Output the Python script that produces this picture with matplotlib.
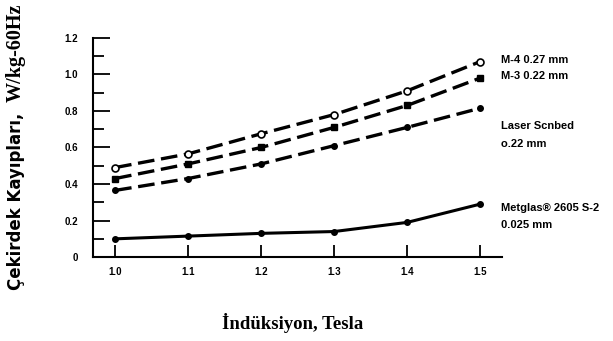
import numpy as np
import matplotlib.pyplot as plt

# induction (T) and core losses (W/kg at 60 Hz)
induction = [1.0, 1.1, 1.2, 1.3, 1.4, 1.5]
m4_loss = [0.49, 0.565, 0.675, 0.78, 0.91, 1.07]
m3_loss = [0.43, 0.51, 0.60, 0.71, 0.83, 0.98]
laser_loss = [0.365, 0.43, 0.51, 0.61, 0.71, 0.815]
metglas_loss = [0.10, 0.115, 0.13, 0.14, 0.19, 0.29]

x_ticks = [1.0, 1.1, 1.2, 1.3, 1.4, 1.5]
x_ticklabels = ['1.0', '1.1', '1.2', '1.3', '1.4', '1.5']
y_ticks = [0, 0.2, 0.4, 0.6, 0.8, 1.0, 1.2]
y_ticklabels = ['0', '0.2', '0.4', '0.6', '0.8', '1.0', '1.2']

fig = plt.figure(figsize=(6.13, 3.41), dpi=100)
ax = fig.add_axes([0.152, 0.246, 0.667, 0.643])

dash = (0, (5, 2))
ax.plot(induction, m4_loss, color='black', lw=2.4, linestyle=dash,
        marker='o', ms=5, mfc='white', mec='black', mew=1.2)
ax.plot(induction, m3_loss, color='black', lw=2.4, linestyle=dash,
        marker='s', ms=5, mfc='black', mec='black')
ax.plot(induction, laser_loss, color='black', lw=2.4, linestyle=dash,
        marker='o', ms=4, mfc='black', mec='black')
ax.plot(induction, metglas_loss, color='black', lw=2.2, linestyle='-',
        marker='o', ms=4, mfc='black', mec='black')

ax.set_xlim(0.97, 1.53)
ax.set_ylim(0, 1.2)
ax.set_xticks(x_ticks)
ax.set_xticklabels(x_ticklabels)
ax.set_yticks(y_ticks)
ax.set_yticklabels(y_ticklabels)
ax.set_yticks(np.arange(0.1, 1.2, 0.2), minor=True)

for s in ['top', 'right']:
    ax.spines[s].set_visible(False)
for s in ['left', 'bottom']:
    ax.spines[s].set_linewidth(1.5)

ax.tick_params(axis='x', direction='in', length=9, width=1.3, pad=7,
               labelsize=7)
ax.tick_params(axis='y', which='major', direction='in', length=12, width=1.3,
               pad=11, labelsize=7)
ax.tick_params(axis='y', which='minor', direction='in', length=8, width=1.3)
for lab in ax.get_xticklabels() + ax.get_yticklabels():
    lab.set_family('Liberation Sans')
    lab.set_fontweight('bold')

# curve labels at the right end
lab_kw = dict(fontsize=8, family='Liberation Sans', fontweight='bold',
              va='center', transform=ax.transData, clip_on=False)
ax.text(1.528, 1.08, 'M-4 0.27 mm', **lab_kw)
ax.text(1.528, 0.99, 'M-3 0.22 mm', **lab_kw)
ax.text(1.528, 0.72, 'Laser Scnbed', **lab_kw)
ax.text(1.528, 0.62, 'o.22 mm', **lab_kw)
ax.text(1.528, 0.27, 'Metglas® 2605 S-2', **lab_kw)
ax.text(1.528, 0.175, '0.025 mm', **lab_kw)

# y label: sans part followed by serif unit part
t1 = fig.text(0.026, 1 - 290 / 341, 'Çekirdek Kayıpları,', rotation=90,
              ha='center', va='bottom', fontsize=12, family='DejaVu Sans',
              fontweight='bold')
fig.canvas.draw()
top = t1.get_window_extent().y1 / fig.bbox.height
fig.text(0.026, top + 0.03, 'W/kg-60Hz', rotation=90, ha='center',
         va='bottom', fontsize=14.5, family='Liberation Serif',
         fontweight='bold')

fig.text(0.478, 0.052, 'İndüksiyon, Tesla', ha='center', va='center',
         fontsize=13.5, family='Liberation Serif', fontweight='bold')

fig.savefig('out.png', dpi=100, facecolor='white')
